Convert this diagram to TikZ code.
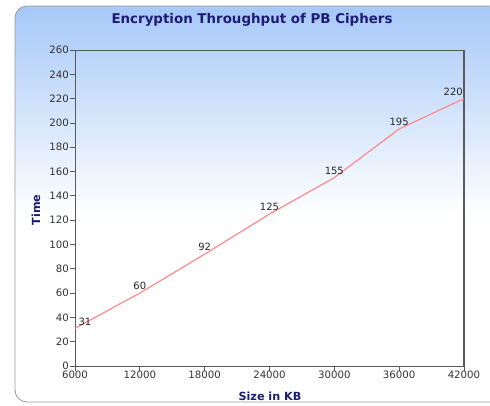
\documentclass[tikz,border=0pt]{standalone}
\usepackage{fontspec}
\setmainfont{DejaVu Sans}
\usetikzlibrary{calc}
\definecolor{navy}{HTML}{1C1C74}
\definecolor{topblue}{HTML}{A6C8F8}
\definecolor{axisgray}{HTML}{5A5A5A}
\definecolor{linered}{HTML}{FF8A8A}
\definecolor{panelborder}{HTML}{9A9A9A}
\tikzset{
  ticklbl/.style={font=\fontsize{10.2}{12}\selectfont, text=black!80, inner sep=1pt},
  ptlbl/.style={font=\fontsize{10}{12}\selectfont, text=black!85, inner sep=1pt},
  axtitle/.style={font=\fontsize{11.2}{13}\bfseries\selectfont, text=navy},
  axisline/.style={draw=axisgray, line width=0.9pt},
  dataline/.style={draw=linered, line width=1.2pt}
}
\begin{document}
\begin{tikzpicture}[x=1pt,y=-1pt]
\useasboundingbox (0,0) rectangle (490,405);
% panel
\begin{scope}
  \clip[rounded corners=12pt] (15,6) rectangle (500,402);
  \fill[white] (15,6) rectangle (500,402);
  \shade[top color=topblue, bottom color=white] (15,6) rectangle (500,215);
\end{scope}
\draw[panelborder, line width=0.8pt, rounded corners=12pt] (500,6) -- (15,6) -- (15,402) -- (500,402);
% title
\node[font=\fontsize{13.4}{15}\bfseries\selectfont, text=navy] (title) at (252,20) {Encryption Throughput of PB Ciphers};
% frame
\coordinate (o) at (75,366);
\coordinate (tl) at (75,50);
\coordinate (tr) at (464,50);
\coordinate (br) at (464,366);
\draw[axisline] (tl) -- (tr);
\draw[axisline, line width=1.3pt] (tr) -- (br);
\draw[axisline] (o) -- (br);
\draw[axisline] (o) -- (tl);
% y ticks
\foreach \v in {0,20,...,260}{
  \pgfmathsetmacro{\yy}{366-\v*1.21538}
  \draw[axisgray, line width=0.8pt] (70,\yy) -- (75,\yy);
  \node[ticklbl, anchor=east] (yl\v) at (70,\yy) {\v};
}
% x ticks
\foreach \v/\i in {6000/0,12000/1,18000/2,24000/3,30000/4,36000/5,42000/6}{
  \pgfmathsetmacro{\xx}{75+\i*64.83}
  \draw[axisgray, line width=0.8pt] (\xx,366) -- (\xx,371);
  \node[ticklbl, anchor=north] (xl\i) at (\xx,370) {\v};
}
% axis titles
\node[axtitle] (xt) at (270,396) {Size in KB};
\node[axtitle, rotate=90] (yt) at (36,210) {Time};
% data
\foreach \i/\v in {0/31,1/60,2/92,3/125,4/155,5/195,6/220}{
  \coordinate (p\i) at ({75+\i*64.83},{366-\v*1.21538});
}
\draw[dataline] (p0) -- (p1) -- (p2) -- (p3) -- (p4) -- (p5) -- (p6);
\node[ptlbl] (l0) at ($(p0)+(10,-6)$) {31};
\node[ptlbl] (l1) at ($(p1)+(0,-7)$) {60};
\node[ptlbl] (l2) at ($(p2)+(0,-7)$) {92};
\node[ptlbl] (l3) at ($(p3)+(0,-7)$) {125};
\node[ptlbl] (l4) at ($(p4)+(0,-7)$) {155};
\node[ptlbl] (l5) at ($(p5)+(0,-7)$) {195};
\node[ptlbl, anchor=east] (l6) at ($(p6)+(0,-7)$) {220};
\end{tikzpicture}
\end{document}
